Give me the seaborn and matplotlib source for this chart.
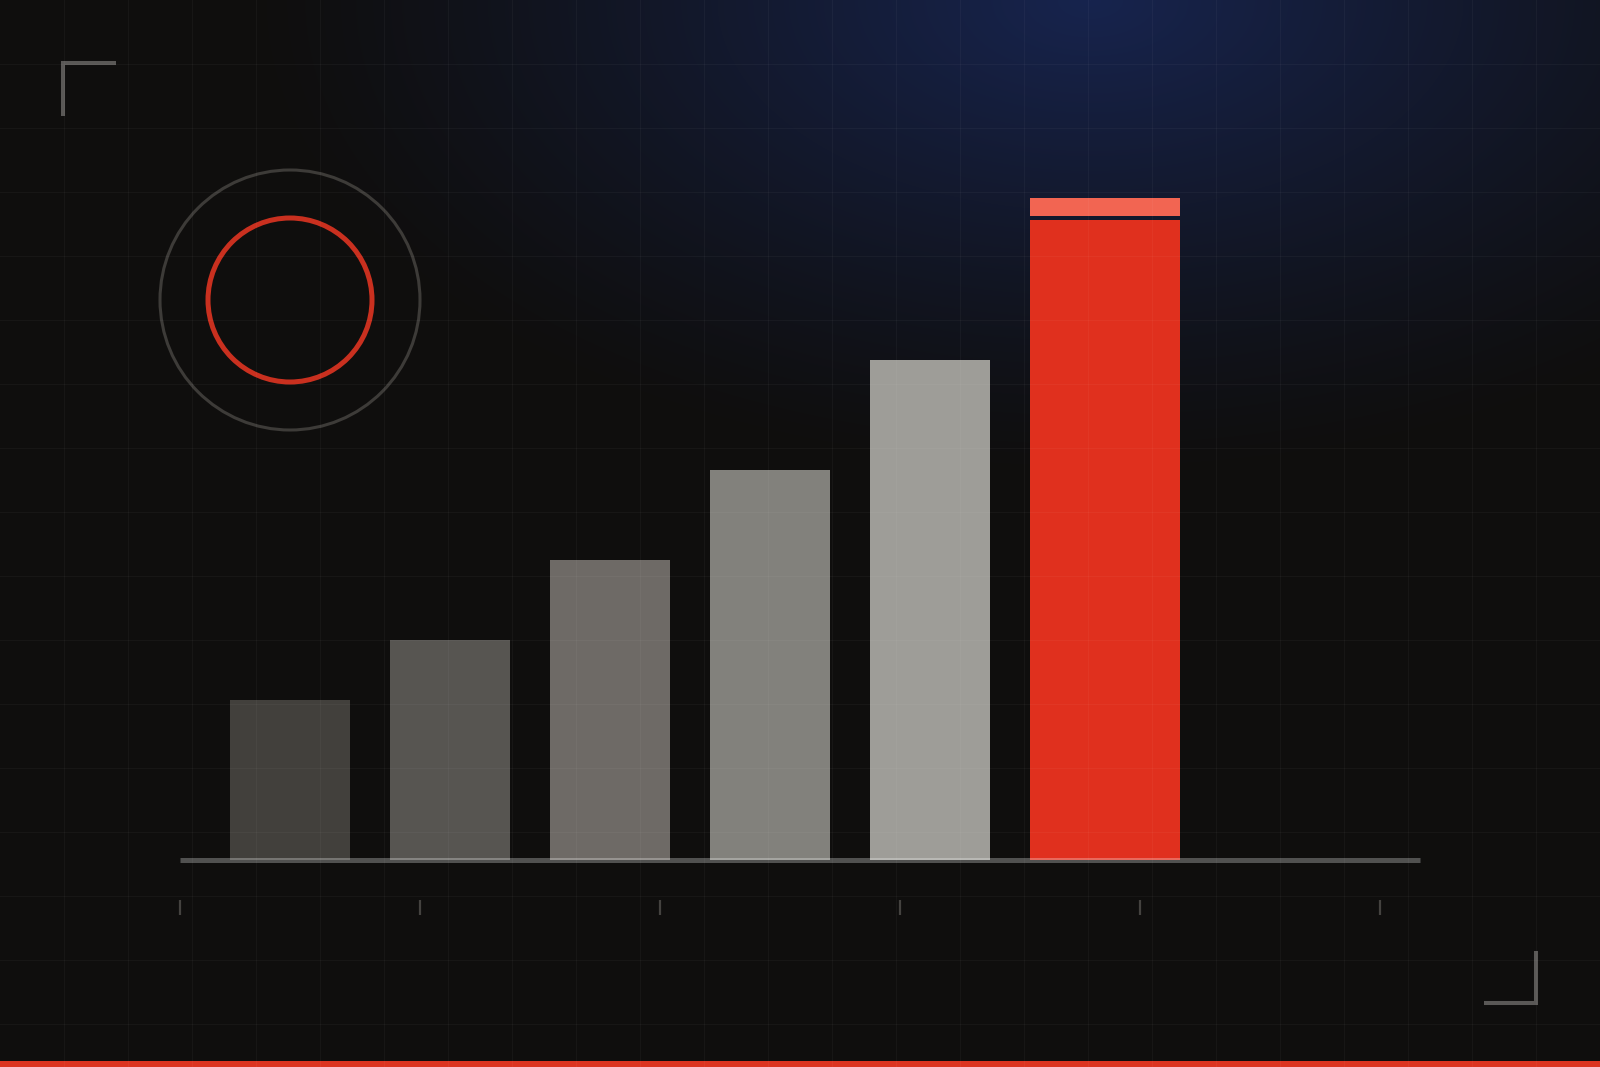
import numpy as np
import pandas as pd
import matplotlib
matplotlib.use("Agg")
import matplotlib.pyplot as plt
from matplotlib.patches import Circle, Rectangle
import seaborn as sns

# --- dados ---
categorias = ["A", "B", "C", "D", "E", "F"]
valores = [16, 22, 30, 39, 50, 64]
cores = ["#42403c", "#575551", "#6e6a66", "#82817c", "#9e9d98", "#e0301e"]
tampa = [64.4, 66.2]   # faixa clara acima da barra em destaque

BG = "#0f0e0d"
W, H = 1600, 1067

sns.set_theme(style="dark", rc={"axes.facecolor": "none", "figure.facecolor": BG})

fig = plt.figure(figsize=(W / 100, H / 100), dpi=100)

# --- fundo com brilho azul ---
bg = fig.add_axes([0, 0, 1, 1])
yy, xx = np.mgrid[0:H, 0:W]
r = np.sqrt(((xx - 1090) / 850.0) ** 2 + ((yy - 0) / 480.0) ** 2)
k = np.clip(1 - r, 0, 1) ** 1.2
c0 = np.array([0x0f, 0x0e, 0x0d]) / 255
c1 = np.array([0x17, 0x24, 0x4e]) / 255
img = c0[None, None, :] * (1 - k[..., None]) + c1[None, None, :] * k[..., None]
bg.imshow(img, extent=[0, W, H, 0], aspect="auto", zorder=0)
bg.set_xlim(0, W)
bg.set_ylim(H, 0)
bg.axis("off")

# cantoneiras
bg.plot([63, 63, 116], [116, 63, 63], color="#5a5856", lw=2.9, solid_capstyle="butt", solid_joinstyle="miter")
bg.plot([1484, 1536, 1536], [1003, 1003, 951], color="#5a5856", lw=2.9, solid_capstyle="butt", solid_joinstyle="miter")

# circulos
bg.add_patch(Circle((290, 300), 130, fill=False, ec="#3d3b38", lw=2.2))
bg.add_patch(Circle((290, 300), 82, fill=False, ec="#c9301f", lw=3.6))

# faixa vermelha inferior
bg.add_patch(Rectangle((0, H - 6), W, 6, color="#dc3420", lw=0))

# --- barras ---
ax = fig.add_axes([180 / W, (H - 860) / H, 1240 / W, 760 / H])
df = pd.DataFrame({"cat": categorias, "val": valores})
sns.barplot(data=df, x="cat", y="val", hue="cat", palette=cores, width=0.75,
            saturation=1, legend=False, ax=ax, zorder=2, linewidth=0, edgecolor="none")

x0 = -0.6875
ax.set_xlim(x0, x0 + 1240 / 160)
ax.set_ylim(0, 76)

# barra em destaque mais larga, alinhada à esquerda
patches = sorted(ax.patches, key=lambda p: p.get_x())
destaque = patches[-1]
destaque.set_x(4.625)
destaque.set_width(0.9375)
ax.bar(4.625 + 0.9375 / 2, tampa[1] - tampa[0], bottom=tampa[0], width=0.9375,
       color="#f26552", lw=0, zorder=2)

ax.axhline(0, color="white", alpha=0.28, lw=3.6, zorder=3, clip_on=False,
           solid_capstyle="butt")

# marcas do eixo
ax.set_xticks([x0 + 1.5 * i for i in range(6)])
ax.set_yticks([])
ax.spines["bottom"].set_position(("outward", 39.6))
for s in ax.spines.values():
    s.set_visible(False)
ax.tick_params(axis="x", direction="in", length=10.8, width=1.6, color="#44423f",
               labelbottom=False, bottom=True)
ax.set_xlabel("")
ax.set_ylabel("")
ax.grid(False)

# --- grade sobreposta ---
grid = fig.add_axes([0, 0, 1, 1], zorder=10)
grid.set_xlim(0, W)
grid.set_ylim(H, 0)
grid.patch.set_alpha(0)
for gx in range(64, W, 64):
    grid.axvline(gx, color="white", alpha=0.035, lw=0.9)
for gy in range(64, H, 64):
    grid.axhline(gy, color="white", alpha=0.035, lw=0.9)
grid.axis("off")

fig.savefig("out.png", dpi=100, facecolor=BG)
